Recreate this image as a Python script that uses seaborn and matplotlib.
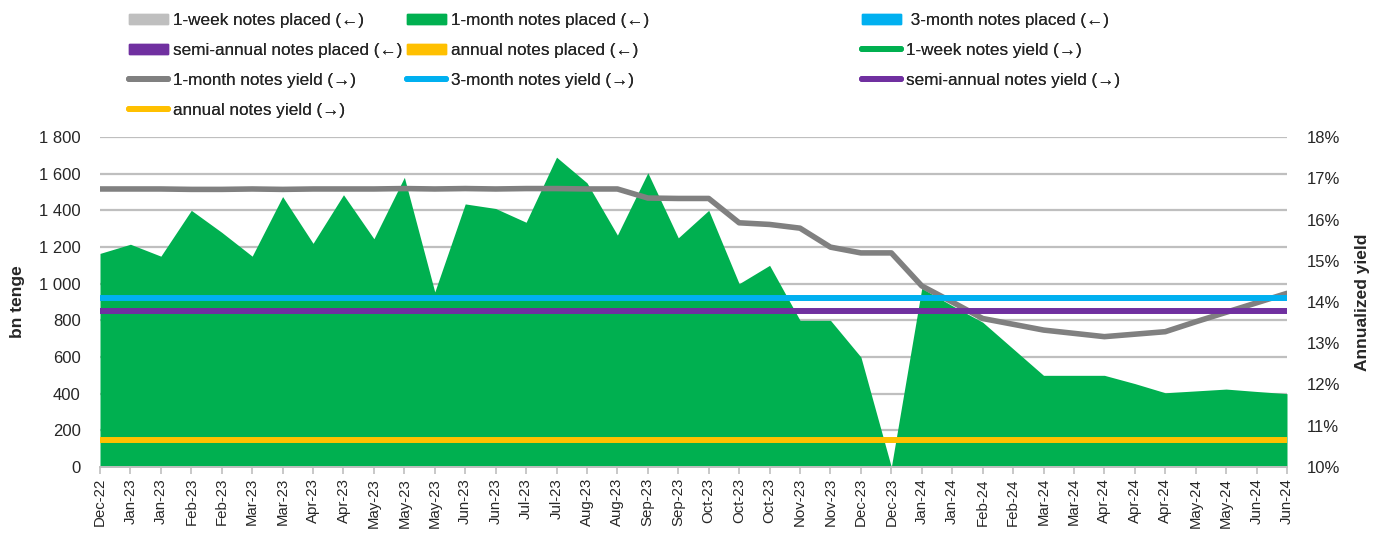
# Import libraries
import numpy as np
import pandas as pd
import matplotlib
matplotlib.use('Agg')
import matplotlib.pyplot as plt
import seaborn as sns
from matplotlib.lines import Line2D
from matplotlib.patches import Patch

# Data
dates = ['Dec-22', 'Jan-23', 'Jan-23', 'Feb-23', 'Feb-23', 'Mar-23', 'Mar-23', 'Apr-23', 'Apr-23',
         'May-23', 'May-23', 'May-23', 'Jun-23', 'Jun-23', 'Jul-23', 'Jul-23', 'Aug-23', 'Aug-23',
         'Sep-23', 'Sep-23', 'Oct-23', 'Oct-23', 'Oct-23', 'Nov-23', 'Nov-23', 'Dec-23', 'Dec-23',
         'Jan-24', 'Jan-24', 'Feb-24', 'Feb-24', 'Mar-24', 'Mar-24', 'Apr-24', 'Apr-24', 'Apr-24',
         'May-24', 'May-24', 'Jun-24', 'Jun-24']

one_month_placed = [1165, 1215, 1150, 1400, 1280, 1150, 1475, 1220, 1485, 1245,
                    1580, 955, 1435, 1410, 1335, 1690, 1550, 1265, 1605, 1250,
                    1400, 1000, 1100, 800, 800, 600, 0, 975, 880, 790,
                    645, 500, 500, 500, 455, 405, 415, 425, 412, 400]

one_month_yield = [16.74, 16.74, 16.74, 16.73, 16.73, 16.74, 16.73, 16.74, 16.74, 16.74,
                   16.75, 16.74, 16.75, 16.74, 16.75, 16.75, 16.74, 16.74, 16.52, 16.51,
                   16.51, 15.92, 15.88, 15.79, 15.33, 15.19, 15.19, 14.39, 14.00, 13.60,
                   13.46, 13.32, 13.24, 13.16, 13.22, 13.28, 13.52, 13.75, 13.98, 14.21]

three_month_yield = [14.10] * len(dates)
semi_annual_yield = [13.77] * len(dates)
annual_yield = [10.65] * len(dates)

# Colours
c_green = '#00B050'
c_lgray = '#BFBFBF'
c_blue = '#00B0F0'
c_purple = '#7030A0'
c_yellow = '#FFC000'
c_gray = '#808080'

df = pd.DataFrame({'Date': dates, 'x': np.arange(len(dates)),
                   '1-month placed': one_month_placed, '1-month yield': one_month_yield,
                   '3-month yield': three_month_yield, 'semi-annual yield': semi_annual_yield,
                   'annual yield': annual_yield})

# Set the theme and fonts
sns.set_theme(style='white')
plt.rcParams['font.family'] = ['Liberation Sans', 'DejaVu Sans']

fig = plt.figure(figsize=(13.78, 5.33), dpi=100)
ax = fig.add_axes([100 / 1378, 1 - 467 / 533, 1187 / 1378, 330 / 533])
ax2 = ax.twinx()

# Placed volumes (left axis)
ax.fill_between(df['x'], df['1-month placed'], color=c_green, lw=0, zorder=2)
ax.set_ylim(0, 1800)
ax.set_yticks(range(0, 1801, 200))
ax.set_yticklabels([f'{v:,}'.replace(',', ' ') for v in range(0, 1801, 200)], fontsize=12)
ax.yaxis.grid(True, color=c_lgray, lw=1.6, zorder=0)
ax.set_axisbelow(True)

# Yields (right axis)
sns.lineplot(data=df, x='x', y='1-month yield', ax=ax2, color=c_gray, lw=4)
sns.lineplot(data=df, x='x', y='3-month yield', ax=ax2, color=c_blue, lw=4.3)
sns.lineplot(data=df, x='x', y='semi-annual yield', ax=ax2, color=c_purple, lw=4.3)
sns.lineplot(data=df, x='x', y='annual yield', ax=ax2, color=c_yellow, lw=4.3)
ax2.set_ylim(10, 18)
ax2.set_yticks(range(10, 19))
ax2.set_yticklabels([f'{v}%' for v in range(10, 19)], fontsize=12)

# X axis
ax.set_xlim(0, len(dates) - 1)
ax.set_xticks(df['x'])
ax.set_xticklabels(dates, rotation=90, fontsize=10.8)
ax.tick_params(axis='x', length=5, width=1.2, color=c_lgray, pad=3, bottom=True)
ax.tick_params(axis='y', length=0, pad=14)
ax2.tick_params(axis='y', length=0, pad=14)
ax.set_xlabel('')

for a in (ax, ax2):
    for side in ('top', 'left', 'right'):
        a.spines[side].set_visible(False)
    a.spines['bottom'].set_color(c_lgray)

# Axis labels
ax.set_ylabel('bn tenge', fontsize=12.5, fontweight='bold')
ax.yaxis.set_label_coords(-0.063, 0.5)
ax2.set_ylabel('Annualized yield', fontsize=12.5, fontweight='bold')
ax2.yaxis.set_label_coords(1.0573, 0.5)

# Legend, three columns placed by hand
def line_handle(color, label):
    return Line2D([], [], color=color, lw=4.3, solid_capstyle='round', label=label)

columns = [
    (129, [Patch(color=c_lgray, label='1-week notes placed (←)'),
           Patch(color=c_purple, label='semi-annual notes placed (←)'),
           line_handle(c_gray, '1-month notes yield (→)'),
           line_handle(c_yellow, 'annual notes yield (→)')]),
    (407, [Patch(color=c_green, label='1-month notes placed (←)'),
           Patch(color=c_yellow, label='annual notes placed (←)'),
           line_handle(c_blue, '3-month notes yield (→)')]),
    (862, [Patch(color=c_blue, label=' 3-month notes placed (←)'),
           line_handle(c_green, '1-week notes yield (→)'),
           line_handle(c_purple, 'semi-annual notes yield (→)')]),
]
for x0, hs in columns:
    leg = fig.legend(handles=hs, loc='upper left', bbox_to_anchor=(x0 / 1378, 1 - 13 / 533),
                     frameon=False, fontsize=12.3, handlelength=2.3, handleheight=0.6,
                     handletextpad=0.3, labelspacing=0.88, borderpad=0, borderaxespad=0)
    fig.add_artist(leg)

# Save the plot
fig.savefig('out.png', dpi=100)
